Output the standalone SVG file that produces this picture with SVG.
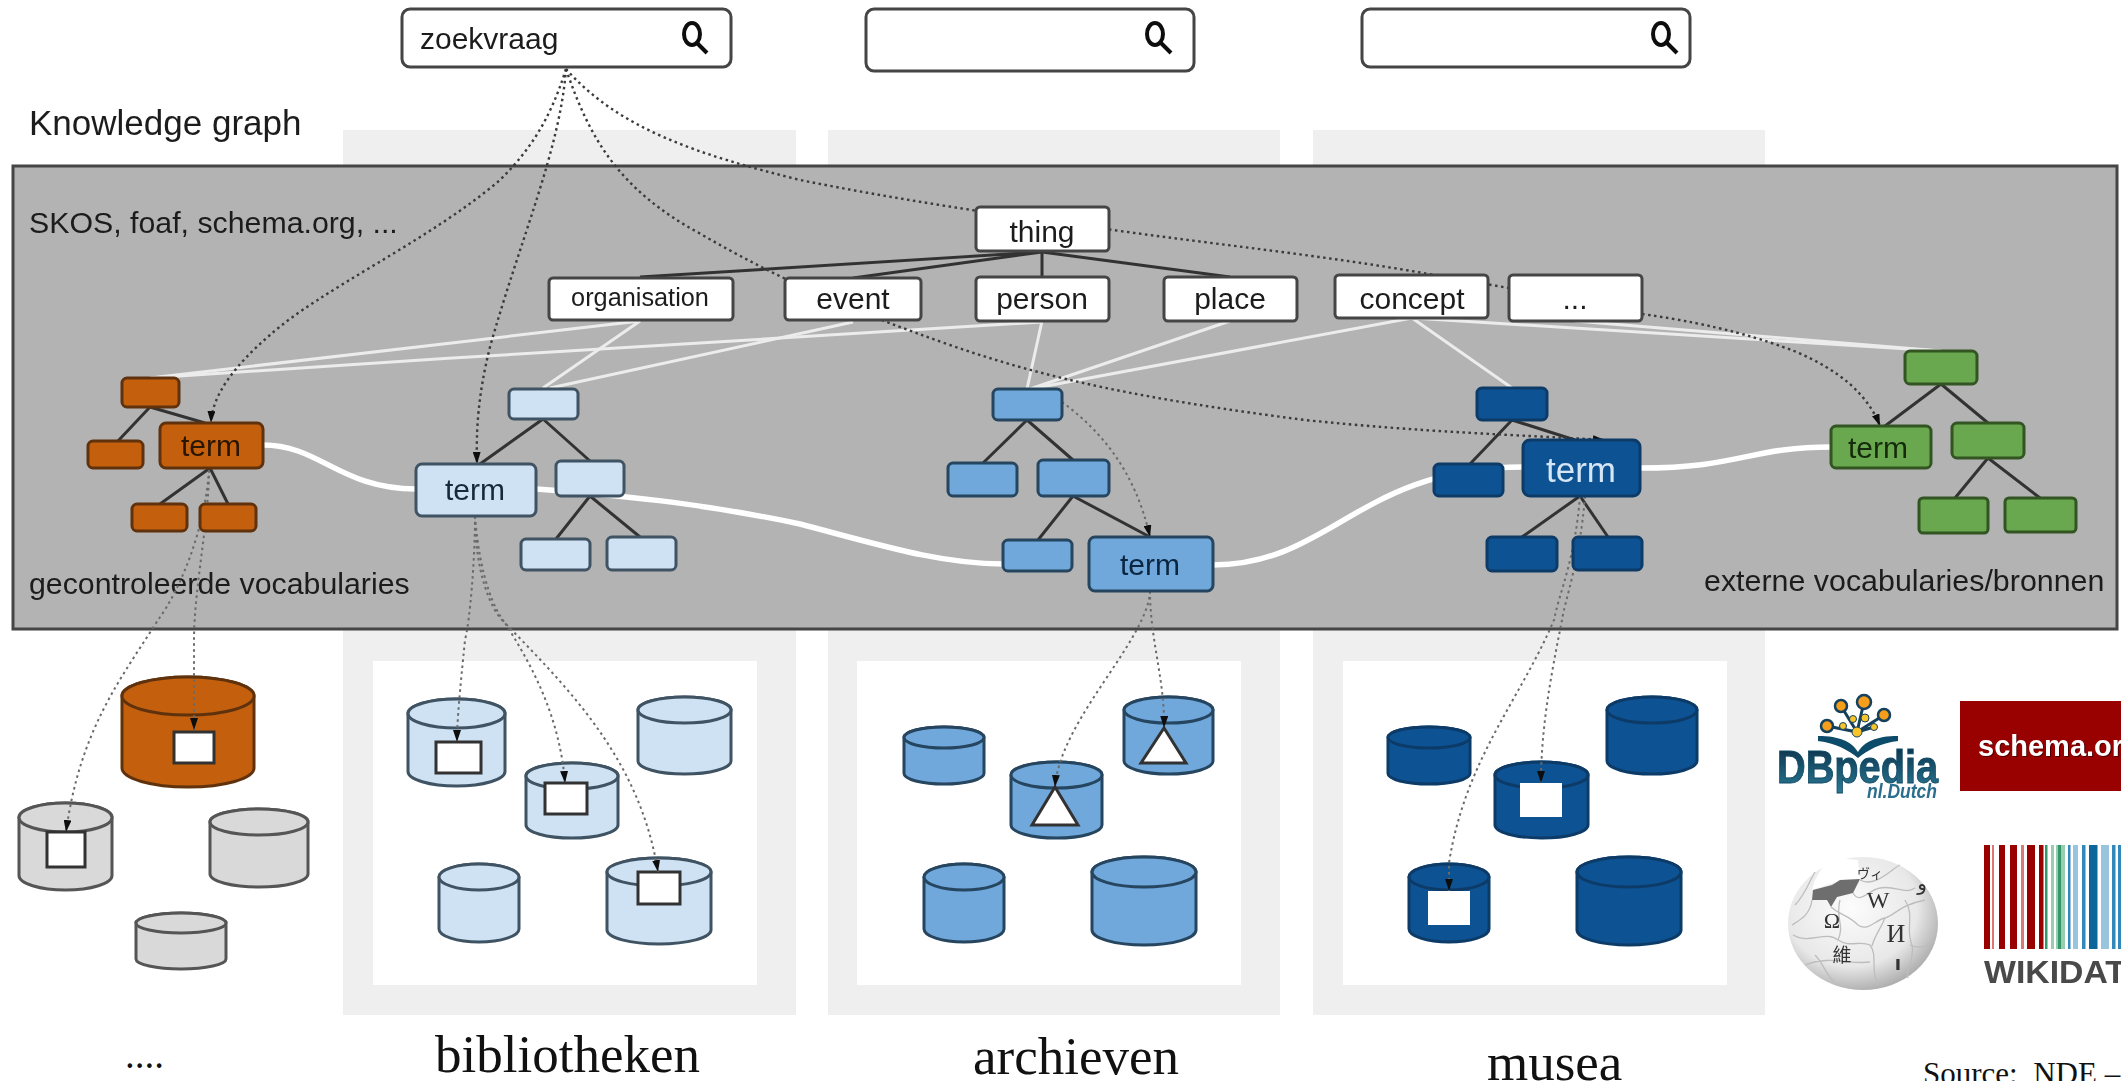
<svg xmlns="http://www.w3.org/2000/svg" width="2121" height="1081" viewBox="0 0 2121 1081">
<style>
.sans{font-family:"Liberation Sans",Arial,sans-serif;fill:#1c1c1c}
.serif{font-family:"Liberation Serif","Times New Roman",serif;fill:#111;font-size:53px}
.m{text-anchor:middle}
.box{fill:#fff;stroke:#444;stroke-width:3}
.n30{font-size:30px}
.search{fill:#fff;stroke:#444;stroke-width:3}
.glass{fill:none;stroke:#111;stroke-width:4}
.col{fill:#efefef}
.inner{fill:#fff}
.o{fill:#c46008;stroke:#5f330c;stroke-width:3}
.g{fill:#d9d9d9;stroke:#555;stroke-width:3}
.lb{fill:#cfe2f3;stroke:#3f5364;stroke-width:3}
.mb{fill:#6fa8dc;stroke:#26445f;stroke-width:3}
.db{fill:#0b5394;stroke:#0a3a68;stroke-width:3}
.gr{fill:#6aa84f;stroke:#305524;stroke-width:3}
.hole{fill:#fff;stroke:#333;stroke-width:3}
.holeb{fill:#fff;stroke:none}
.edge{fill:none;stroke:#333;stroke-width:3}
.thin{fill:none;stroke:#ececec;stroke-width:3}
.thick{fill:none;stroke:#fff;stroke-width:5.5}
.dot{fill:none;stroke:#3a3a3a;stroke-width:2.4;stroke-dasharray:2.5 3.5}
.dotl{fill:none;stroke:#6a6a6a;stroke-width:2;stroke-dasharray:2.5 3.5}
.seam{fill:none;stroke:#bdbdbd;stroke-width:1.3}
.wg{font-family:"Liberation Serif",serif;fill:#333;text-anchor:middle}
</style>
<defs>
<filter id="soft" filterUnits="userSpaceOnUse" x="0" y="0" width="2121" height="1081"><feGaussianBlur stdDeviation="0.65"/></filter>
<filter id="softer" filterUnits="userSpaceOnUse" x="0" y="0" width="2121" height="1081"><feGaussianBlur stdDeviation="0.5"/></filter>
<marker id="arr" markerUnits="userSpaceOnUse" markerWidth="13" markerHeight="8" refX="12" refY="4" orient="auto"><path d="M0,0 L12,4 L0,8 Z" fill="#111"/></marker>
<radialGradient id="globe" cx="42%" cy="38%" r="68%"><stop offset="0" stop-color="#fcfcfc"/><stop offset=".65" stop-color="#e8e8e8"/><stop offset="1" stop-color="#a2a2a2"/></radialGradient>
<linearGradient id="dbp" x1="0" y1="0" x2="0" y2="1"><stop offset="0" stop-color="#0a2c44"/><stop offset="1" stop-color="#2a7a95"/></linearGradient>
</defs>

<g id="columns">
<rect class="col" x="343" y="130" width="453" height="885"/>
<rect class="col" x="828" y="130" width="452" height="885"/>
<rect class="col" x="1313" y="130" width="452" height="885"/>
<rect class="inner" x="373" y="661" width="384" height="324"/>
<rect class="inner" x="857" y="661" width="384" height="324"/>
<rect class="inner" x="1343" y="661" width="384" height="324"/>
</g>

<g id="diagram" filter="url(#soft)">
<g id="knowledge-graph">
<rect x="13" y="166" width="2104" height="463" fill="#b3b3b3" stroke="#444" stroke-width="3"/>
<text class="sans" x="29" y="135" font-size="35">Knowledge graph</text>
<text class="sans" x="29" y="233" font-size="30.3">SKOS, foaf, schema.org, ...</text>
<text class="sans" x="29" y="594" font-size="30.3">gecontroleerde vocabularies</text>
<text class="sans" x="1704" y="591" font-size="30.4">externe vocabularies/bronnen</text>
</g>

<g id="search-1"><rect class="search" x="402" y="9" width="329" height="58" rx="8"/><text class="sans" x="420" y="49" font-size="30">zoekvraag</text><ellipse class="glass" cx="692" cy="34" rx="8" ry="11"/><path class="glass" d="M697,43 L707,53"/></g>
<g id="search-2"><rect class="search" x="866" y="9" width="328" height="62" rx="8"/><ellipse class="glass" cx="1155" cy="34" rx="8" ry="11"/><path class="glass" d="M1161,43 L1171,53"/></g>
<g id="search-3"><rect class="search" x="1362" y="9" width="328" height="58" rx="8"/><ellipse class="glass" cx="1661" cy="34" rx="8" ry="11"/><path class="glass" d="M1667,43 L1677,53"/></g>

<g id="db-other-1"><path class="o" d="M122,696 V768 A66,19 0 0 0 254,768 V696 A66,19 0 0 0 122,696 Z"/><ellipse class="o" cx="188" cy="696" rx="66" ry="19"/><rect class="hole" x="174" y="732" width="40" height="31"/></g>
<g id="db-other-2"><path class="g" d="M19,817.5 V875.5 A46.5,14.5 0 0 0 112,875.5 V817.5 A46.5,14.5 0 0 0 19,817.5 Z"/><ellipse class="g" cx="65.5" cy="817.5" rx="46.5" ry="14.5"/><rect class="hole" x="47" y="832" width="38" height="35"/></g>
<g id="db-other-3"><path class="g" d="M210,822 V874 A49,13 0 0 0 308,874 V822 A49,13 0 0 0 210,822 Z"/><ellipse class="g" cx="259" cy="822" rx="49" ry="13"/></g>
<g id="db-other-4"><path class="g" d="M136,923 V959 A45,10 0 0 0 226,959 V923 A45,10 0 0 0 136,923 Z"/><ellipse class="g" cx="181" cy="923" rx="45" ry="10"/></g>

<g id="db-bib-1"><path class="lb" d="M408,713.5 V771.5 A48.5,14.5 0 0 0 505,771.5 V713.5 A48.5,14.5 0 0 0 408,713.5 Z"/><ellipse class="lb" cx="456.5" cy="713.5" rx="48.5" ry="14.5"/><rect class="hole" x="436" y="742" width="45" height="31"/></g>
<g id="db-bib-2"><path class="lb" d="M526,776 V825 A46,13 0 0 0 618,825 V776 A46,13 0 0 0 526,776 Z"/><ellipse class="lb" cx="572" cy="776" rx="46" ry="13"/><rect class="hole" x="545" y="783" width="42" height="31"/></g>
<g id="db-bib-3"><path class="lb" d="M638,710 V761 A46.5,13 0 0 0 731,761 V710 A46.5,13 0 0 0 638,710 Z"/><ellipse class="lb" cx="684.5" cy="710" rx="46.5" ry="13"/></g>
<g id="db-bib-4"><path class="lb" d="M439,877 V929 A40,13 0 0 0 519,929 V877 A40,13 0 0 0 439,877 Z"/><ellipse class="lb" cx="479" cy="877" rx="40" ry="13"/></g>
<g id="db-bib-5"><path class="lb" d="M607,872 V930 A52,14 0 0 0 711,930 V872 A52,14 0 0 0 607,872 Z"/><ellipse class="lb" cx="659" cy="872" rx="52" ry="14"/><rect class="hole" x="638" y="872" width="42" height="32"/></g>

<g id="db-arch-1"><path class="mb" d="M904,737.5 V773.5 A40,10.5 0 0 0 984,773.5 V737.5 A40,10.5 0 0 0 904,737.5 Z"/><ellipse class="mb" cx="944" cy="737.5" rx="40" ry="10.5"/></g>
<g id="db-arch-2"><path class="mb" d="M1011,775 V825 A45.5,13 0 0 0 1102,825 V775 A45.5,13 0 0 0 1011,775 Z"/><ellipse class="mb" cx="1056.5" cy="775" rx="45.5" ry="13"/><path class="hole" d="M1055,787 L1078,825 H1032 Z"/></g>
<g id="db-arch-3"><path class="mb" d="M1124,710 V761 A44.5,13 0 0 0 1213,761 V710 A44.5,13 0 0 0 1124,710 Z"/><ellipse class="mb" cx="1168.5" cy="710" rx="44.5" ry="13"/><path class="hole" d="M1164,728 L1186,763 H1141 Z"/></g>
<g id="db-arch-4"><path class="mb" d="M924,877 V929 A40,13 0 0 0 1004,929 V877 A40,13 0 0 0 924,877 Z"/><ellipse class="mb" cx="964" cy="877" rx="40" ry="13"/></g>
<g id="db-arch-5"><path class="mb" d="M1092,872 V930 A52,15 0 0 0 1196,930 V872 A52,15 0 0 0 1092,872 Z"/><ellipse class="mb" cx="1144" cy="872" rx="52" ry="15"/></g>

<g id="db-mus-1"><path class="db" d="M1388,737.5 V773.5 A41,10.5 0 0 0 1470,773.5 V737.5 A41,10.5 0 0 0 1388,737.5 Z"/><ellipse class="db" cx="1429" cy="737.5" rx="41" ry="10.5"/></g>
<g id="db-mus-2"><path class="db" d="M1495,775 V825 A46.5,13 0 0 0 1588,825 V775 A46.5,13 0 0 0 1495,775 Z"/><ellipse class="db" cx="1541.5" cy="775" rx="46.5" ry="13"/><rect class="holeb" x="1520" y="783" width="42" height="34"/></g>
<g id="db-mus-3"><path class="db" d="M1607,710 V761 A45,13 0 0 0 1697,761 V710 A45,13 0 0 0 1607,710 Z"/><ellipse class="db" cx="1652" cy="710" rx="45" ry="13"/></g>
<g id="db-mus-4"><path class="db" d="M1409,877 V929 A40,13 0 0 0 1489,929 V877 A40,13 0 0 0 1409,877 Z"/><ellipse class="db" cx="1449" cy="877" rx="40" ry="13"/><rect class="holeb" x="1428" y="891" width="42" height="34"/></g>
<g id="db-mus-5"><path class="db" d="M1577,872 V930 A52,15 0 0 0 1681,930 V872 A52,15 0 0 0 1577,872 Z"/><ellipse class="db" cx="1629" cy="872" rx="52" ry="15"/></g>

<g id="connectors">
<g id="links-thin">
<path class="thin" d="M640,321 L150,378"/>
<path class="thin" d="M640,321 L543,388"/>
<path class="thin" d="M1042,322 C800,335 450,358 150,378"/>
<path class="thin" d="M853,322 L550,388"/>
<path class="thin" d="M1042,321 L1027,389"/>
<path class="thin" d="M1230,321 L1030,389"/>
<path class="thin" d="M1412,318 L1030,389"/>
<path class="thin" d="M1412,318 L1512,388"/>
<path class="thin" d="M1412,318 L1941,351"/>
<path class="thin" d="M1575,321 L1941,351"/>
</g>
<g id="links-term">
<path class="thick" d="M263,445 C320,445 340,489 416,489"/>
<path class="thick" d="M536,489 C640,497 710,505 800,524 C880,545 940,564 1003,564"/>
<path class="thick" d="M1213,565 C1330,565 1360,467 1523,467"/>
<path class="thick" d="M1640,468 C1740,468 1750,447 1831,447"/>
</g>
<g id="links-tree">
<path class="edge" d="M1042,252 L640,277 M1042,252 L853,278 M1042,252 V277 M1042,252 L1230,277"/>
<path class="edge" d="M150,407 L118,441 M150,407 L205,423 M210,468 L160,504 M210,468 L228,504"/>
<path class="edge" d="M543,419 L480,464 M543,419 L590,461 M590,496 L556,539 M590,496 L640,537"/>
<path class="edge" d="M1027,420 L983,463 M1027,420 L1073,460 M1073,496 L1038,540 M1073,496 L1150,537"/>
<path class="edge" d="M1512,420 L1470,464 M1512,420 L1575,440 M1580,496 L1522,537 M1580,496 L1608,537"/>
<path class="edge" d="M1941,384 L1885,426 M1941,384 L1988,423 M1988,458 L1955,498 M1988,458 L2040,498"/>
</g>
<g id="links-query">
<path class="dot" marker-end="url(#arr)" d="M566,69 C550,120 530,150 500,180 C430,240 320,290 270,335 C235,365 212,395 211,423"/>
<path class="dot" marker-end="url(#arr)" d="M566,69 C560,150 520,240 490,347 C478,395 476,430 477,464"/>
<path class="dot" marker-end="url(#arr)" d="M566,69 C590,140 620,190 699,233 C780,280 850,310 950,345 C1050,380 1150,400 1305,420 C1420,432 1520,435 1605,440"/>
<path class="dot" marker-end="url(#arr)" d="M566,69 C620,130 700,155 800,180 C900,200 1000,215 1113,230 C1220,245 1320,255 1423,273 C1520,290 1580,300 1642,314 C1720,325 1765,340 1794,351 C1840,370 1868,395 1880,426"/>
<path class="dotl" marker-end="url(#arr)" d="M1062,402 C1100,430 1135,470 1150,537"/>
<path class="dotl" marker-end="url(#arr)" d="M209,470 C209,520 194,590 194,640 L194,730"/>
<path class="dotl" marker-end="url(#arr)" d="M209,470 C205,530 180,590 158,620 C120,680 80,730 66,832"/>
<path class="dotl" marker-end="url(#arr)" d="M475,516 C475,560 470,620 465,640 C460,690 457,720 457,742"/>
<path class="dotl" marker-end="url(#arr)" d="M475,516 C475,570 490,610 505,623 C535,670 560,720 565,783"/>
<path class="dotl" marker-end="url(#arr)" d="M475,516 C480,580 495,610 505,623 C570,690 640,760 658,872"/>
<path class="dotl" marker-end="url(#arr)" d="M1150,591 C1150,640 1165,680 1164,728"/>
<path class="dotl" marker-end="url(#arr)" d="M1150,591 C1148,640 1060,720 1055,787"/>
<path class="dotl" marker-end="url(#arr)" d="M1585,496 C1580,560 1565,600 1562,620 C1550,680 1541,730 1541,783"/>
<path class="dotl" marker-end="url(#arr)" d="M1580,496 C1575,560 1560,590 1554,620 C1520,700 1465,760 1449,863 L1449,891"/>
</g>
</g>

<g id="thing"><rect class="box" x="976" y="207" width="133" height="44" rx="4"/><text class="sans n30 m" x="1042" y="242">thing</text></g>
<g id="organisation"><rect class="box" x="549" y="278" width="184" height="42" rx="4"/><text class="sans m" x="640" y="306" font-size="25.3">organisation</text></g>
<g id="event"><rect class="box" x="785" y="278" width="136" height="42" rx="4"/><text class="sans n30 m" x="853" y="309">event</text></g>
<g id="person"><rect class="box" x="976" y="277" width="133" height="44" rx="4"/><text class="sans n30 m" x="1042" y="309">person</text></g>
<g id="place"><rect class="box" x="1164" y="277" width="133" height="44" rx="4"/><text class="sans n30 m" x="1230" y="309">place</text></g>
<g id="concept"><rect class="box" x="1335" y="275" width="153" height="43" rx="4"/><text class="sans n30 m" x="1412" y="309">concept</text></g>
<g id="more"><rect class="box" x="1509" y="275" width="133" height="46" rx="4"/><text class="sans n30 m" x="1575" y="309">...</text></g>

<g id="tree-orange">
<rect class="o" x="122" y="378" width="57" height="29" rx="5"/>
<rect class="o" x="88" y="441" width="55" height="27" rx="5"/>
<rect class="o" x="132" y="504" width="55" height="27" rx="5"/>
<rect class="o" x="200" y="504" width="56" height="27" rx="5"/>
<g id="term-orange"><rect class="o" x="160" y="423" width="103" height="45" rx="6"/><text class="m n30" x="211" y="456" style="font-family:'Liberation Sans',sans-serif" fill="#2a1300">term</text></g>
</g>
<g id="tree-lightblue">
<rect class="lb" x="509" y="389" width="69" height="30" rx="5"/>
<rect class="lb" x="556" y="461" width="68" height="35" rx="5"/>
<rect class="lb" x="521" y="539" width="69" height="31" rx="5"/>
<rect class="lb" x="607" y="537" width="69" height="33" rx="5"/>
<g id="term-lightblue"><rect class="lb" x="416" y="464" width="120" height="52" rx="6"/><text class="m n30" x="475" y="500" style="font-family:'Liberation Sans',sans-serif" fill="#16293a">term</text></g>
</g>
<g id="tree-midblue">
<rect class="mb" x="993" y="389" width="69" height="31" rx="5"/>
<rect class="mb" x="948" y="463" width="69" height="33" rx="5"/>
<rect class="mb" x="1038" y="460" width="71" height="36" rx="5"/>
<rect class="mb" x="1003" y="540" width="69" height="31" rx="5"/>
<g id="term-midblue"><rect class="mb" x="1089" y="537" width="124" height="54" rx="6"/><text class="m n30" x="1150" y="575" style="font-family:'Liberation Sans',sans-serif" fill="#0a2540">term</text></g>
</g>
<g id="tree-darkblue">
<rect class="db" x="1477" y="388" width="70" height="32" rx="5"/>
<rect class="db" x="1434" y="464" width="69" height="32" rx="5"/>
<rect class="db" x="1487" y="537" width="70" height="34" rx="5"/>
<rect class="db" x="1573" y="537" width="69" height="33" rx="5"/>
<g id="term-darkblue"><rect class="db" x="1523" y="440" width="117" height="56" rx="7"/><text class="m" x="1581" y="482" font-size="35" style="font-family:'Liberation Sans',sans-serif" fill="#d6e6f5">term</text></g>
</g>
<g id="tree-green">
<rect class="gr" x="1905" y="351" width="72" height="33" rx="5"/>
<rect class="gr" x="1952" y="423" width="72" height="35" rx="5"/>
<rect class="gr" x="1919" y="498" width="69" height="35" rx="4"/>
<rect class="gr" x="2005" y="498" width="71" height="34" rx="4"/>
<g id="term-green"><rect class="gr" x="1831" y="426" width="100" height="42" rx="5"/><text class="m n30" x="1878" y="458" style="font-family:'Liberation Sans',sans-serif" fill="#142c0a">term</text></g>
</g>
</g>

<g id="labels">
<text class="serif" x="125" y="1068" style="font-size:39px">....</text>
<text class="serif" x="435" y="1072">bibliotheken</text>
<text class="serif" x="973" y="1074">archieven</text>
<text class="serif" x="1487" y="1080">musea</text>
<text class="serif" x="1923" y="1084" style="font-size:31px;white-space:pre">Source:  NDE –</text>
</g>

<g id="logos" filter="url(#softer)">
<g id="logo-dbpedia">
<path d="M1857,732 L1841,706 M1857,732 L1864,702 M1857,732 L1884,715 M1857,732 L1827,726 M1874,727 L1857,732" fill="none" stroke="#123f5c" stroke-width="3"/>
<circle cx="1827" cy="726" r="6" fill="#f59e1c" stroke="#123f5c" stroke-width="2.5"/>
<circle cx="1841" cy="706" r="6" fill="#f59e1c" stroke="#123f5c" stroke-width="2.5"/>
<circle cx="1864" cy="702" r="7" fill="#f59e1c" stroke="#123f5c" stroke-width="2.5"/>
<circle cx="1884" cy="715" r="6" fill="#f59e1c" stroke="#123f5c" stroke-width="2.5"/>
<circle cx="1843" cy="726" r="3.5" fill="#f7c52a" stroke="#123f5c"/>
<circle cx="1853" cy="719" r="3.5" fill="#f7c52a" stroke="#123f5c"/>
<circle cx="1865" cy="718" r="4" fill="#f7c52a" stroke="#123f5c"/>
<circle cx="1874" cy="727" r="3.5" fill="#f7c52a" stroke="#123f5c"/>
<circle cx="1857" cy="732" r="5" fill="#f7c52a" stroke="#123f5c"/>
<path d="M1818,736 C1840,736 1852,742 1858,752 C1864,742 1876,736 1898,736 L1898,741 C1880,743 1868,750 1858,758 C1848,750 1836,743 1818,741 Z" fill="#0f4c6a"/>
<text x="1777" y="783" font-size="46" font-weight="700" textLength="161" lengthAdjust="spacingAndGlyphs" stroke="#124a66" stroke-width="0.9" style="font-family:'Liberation Sans',sans-serif" fill="url(#dbp)">DBpedia</text>
<text x="1867" y="798" font-size="20" font-weight="700" font-style="italic" textLength="70" lengthAdjust="spacingAndGlyphs" style="font-family:'Liberation Sans',sans-serif" fill="#2a6d8e">nl.Dutch</text>
</g>

<g id="logo-schema">
<rect x="1960" y="701" width="161" height="90" fill="#990000"/>
<text x="1979" y="757" font-size="29" font-weight="700" style="font-family:'Liberation Sans',sans-serif" fill="#4d0000">schema.or</text>
<text x="1978" y="756" font-size="29" font-weight="700" style="font-family:'Liberation Sans',sans-serif" fill="#fff">schema.or</text>
</g>

<g id="logo-wikipedia">
<ellipse cx="1863" cy="923.5" rx="75" ry="66.5" fill="url(#globe)"/>
<path d="M1815,880 L1828,857 L1858,860 L1860,880 L1832,883 L1812,890 Z" fill="#fff"/>
<path d="M1812,900 L1813,890 L1832,885 L1840,880 L1860,879 L1853,893 L1837,897 L1831,907 L1827,900 Z" fill="#6e6e6e"/>
<path class="seam" d="M1853,893 C1860,905 1868,890 1880,888 C1895,885 1905,895 1915,888 M1860,880 C1875,888 1890,870 1900,865 M1812,900 C1810,915 1800,920 1792,925 M1831,907 C1840,915 1848,915 1858,925 C1868,932 1875,920 1885,918 C1895,915 1900,905 1925,900 M1793,935 C1810,945 1825,930 1838,940 C1850,948 1860,940 1870,945 C1878,955 1870,970 1878,985 M1885,918 C1880,930 1875,935 1872,946 M1910,945 C1920,950 1930,945 1935,940 M1815,955 C1825,965 1825,975 1835,982 M1905,900 C1915,915 1905,930 1912,945 C1915,960 1905,970 1908,978 M1840,900 C1835,918 1845,925 1838,940 M1805,965 C1830,955 1850,965 1870,962 M1795,905 C1805,895 1810,880 1815,872"/>
<text class="wg" x="1832" y="928" font-size="22">Ω</text>
<text class="wg" x="1878" y="908" font-size="24">W</text>
<text class="wg" x="1896" y="942" font-size="26">И</text>
<text class="wg" x="1842" y="962" font-size="19" style="font-family:'Noto Sans CJK TC',sans-serif">維</text>
<text class="wg" x="1870" y="878" font-size="13" style="font-family:'Noto Sans CJK JP',sans-serif">ヴィ</text>
<text class="wg" x="1898" y="970" font-size="20" style="font-family:'DejaVu Sans',sans-serif;font-weight:700">ו</text>
<text class="wg" x="1922" y="890" font-size="20" style="font-family:'DejaVu Sans',sans-serif">و</text>
</g>

<g id="logo-wikidata">
<g fill="#990000"><rect x="1984" y="845" width="6" height="104"/><rect x="1999" y="845" width="6" height="104"/><rect x="2010" y="845" width="7" height="104"/><rect x="2027" y="845" width="8" height="104"/><rect x="2039" y="845" width="4.5" height="104"/></g>
<g fill="#d77"><rect x="1992" y="845" width="2" height="104"/><rect x="2021" y="845" width="3" height="104"/></g>
<g fill="#339966"><rect x="2045" y="845" width="2.5" height="104"/><rect x="2058" y="845" width="3.5" height="104"/></g>
<g fill="#99ccb0"><rect x="2051" y="845" width="3" height="104"/><rect x="2056" y="845" width="2" height="104"/><rect x="2061.5" y="845" width="3.5" height="104"/></g>
<g fill="#3388bb"><rect x="2068" y="845" width="2.5" height="104"/><rect x="2082" y="845" width="3.5" height="104"/><rect x="2112" y="845" width="3.5" height="104"/><rect x="2118" y="845" width="3" height="104"/></g>
<g fill="#99c4dd"><rect x="2073" y="845" width="5" height="104"/><rect x="2101" y="845" width="8" height="104"/></g>
<rect x="2089" y="845" width="8.5" height="104" fill="#116699"/>
<text x="1984" y="983" font-size="31" font-weight="700" textLength="142" lengthAdjust="spacingAndGlyphs" style="font-family:'Liberation Sans',sans-serif" fill="#484848">WIKIDAT</text>
</g>
</g>
</svg>
